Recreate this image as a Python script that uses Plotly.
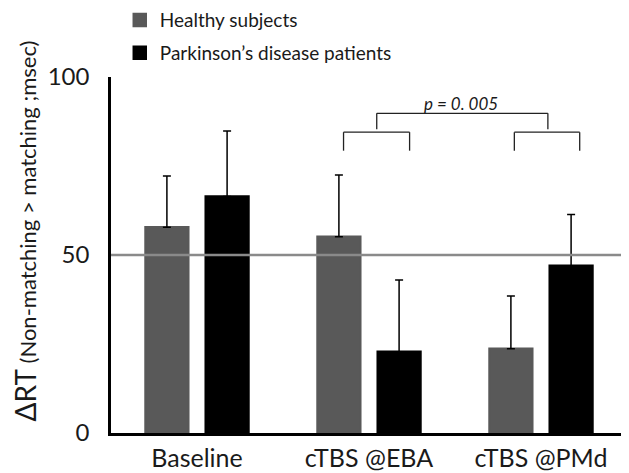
import plotly.graph_objects as go

categories = ["Baseline", "cTBS @EBA", "cTBS @PMd"]
healthy_mean = [57.8, 55.1, 23.7]
healthy_err = [14.4, 17.4, 14.8]
pd_mean = [66.4, 22.8, 47.0]
pd_err = [18.4, 20.2, 14.4]
series_names = ["Healthy subjects", "Parkinson\u2019s disease patients"]
y_ticks = [0, 50, 100]
reference_value = 50
p_label = "p = 0. 005"

FONT = "Lato"
TXT = "#1a1a1a"
GRAY = "#595959"

fig = go.Figure()
fig.add_trace(go.Bar(
    x=categories, y=healthy_mean, name=series_names[0],
    marker=dict(color=GRAY, line=dict(width=2.5, color=GRAY)),
    error_y=dict(type="data", array=healthy_err, arrayminus=[0]*3, symmetric=False,
                 color="black", thickness=1.5, width=4),
    legendgroup="a",
))
fig.add_trace(go.Bar(
    x=categories, y=pd_mean, name=series_names[1],
    marker=dict(color="#000000", line=dict(width=2.5, color="#000000")),
    error_y=dict(type="data", array=pd_err, arrayminus=[0]*3, symmetric=False,
                 color="black", thickness=1.5, width=4),
    legendgroup="b",
))

# reference line at 50
fig.add_shape(type="line", xref="paper", x0=0, x1=1, yref="y",
              y0=reference_value, y1=reference_value,
              line=dict(color="#8a8a8a", width=2.5), layer="above")

# significance brackets
def bracket(x0, x1, ytop, ybot):
    for (a, b, c, d) in [(x0, ybot, x0, ytop), (x0, ytop, x1, ytop), (x1, ytop, x1, ybot)]:
        fig.add_shape(type="line", xref="x", yref="y", x0=a, y0=b, x1=c, y1=d,
                      line=dict(color="#222222", width=1.3))

bracket(0.852, 1.236, 84.5, 79.3)
bracket(1.845, 2.225, 84.5, 79.3)
bracket(1.045, 2.04, 89.8, 85.3)

fig.add_annotation(x=1.535, y=92.5, xref="x", yref="y", text="<i>" + p_label + "</i>",
                   showarrow=False, font=dict(family=FONT, size=17, color=TXT))

# y-axis title
fig.add_annotation(
    xref="paper", yref="paper", x=-0.166, y=0.567, textangle=-90,
    xanchor="center", yanchor="middle", showarrow=False,
    text="<span style='font-size:28px'>\u0394RT</span> (Non-matching &gt; matching ;msec)",
    font=dict(family=FONT, size=22, color=TXT),
)

fig.update_layout(
    width=621, height=465,
    margin=dict(l=103, r=2, t=69, b=40, autoexpand=False),
    paper_bgcolor="white", plot_bgcolor="white",
    barmode="group", bargap=0.30, bargroupgap=0.29,
    font=dict(family=FONT, color=TXT),
    showlegend=True,
    legend=dict(
        x=0.017, y=1.213, xanchor="left", yanchor="top",
        font=dict(family=FONT, size=19, color=TXT),
        bgcolor="rgba(0,0,0,0)", traceorder="grouped", tracegroupgap=5,
    ),
    xaxis=dict(
        showline=True, linecolor="black", linewidth=2.5, ticks="", tickangle=0,
        tickfont=dict(family=FONT, size=25, color=TXT), ticklabelstandoff=1,
        showgrid=False, zeroline=False, range=[-0.5, 2.5],
    ),
    yaxis=dict(
        range=[0, 100], tickvals=y_ticks, showline=True, linecolor="black",
        linewidth=2.5, ticks="", showgrid=False, zeroline=False,
        tickfont=dict(family=FONT, size=24, color=TXT), ticklabelstandoff=14,
    ),
)

fig.write_html("out.html")
